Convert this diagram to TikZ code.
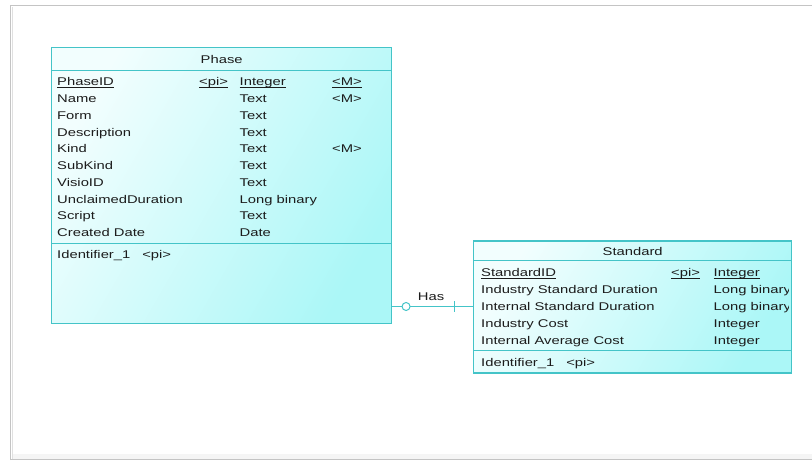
\documentclass[tikz,border=0pt]{standalone}
\usepackage{fontspec}
\setmainfont{Liberation Sans}[FakeStretch=1.32]
\usepackage{xcolor}
\usepackage{tikz}
\usetikzlibrary{calc,positioning}
\definecolor{frame}{HTML}{C4C4C4}
\definecolor{edge}{HTML}{44C4C8}
\definecolor{pale}{HTML}{F2FEFE}
\definecolor{aqua}{HTML}{ABF7F7}
\definecolor{ink}{HTML}{1C1C1C}
\newcommand\keyline[1]{\underline{\smash{#1}}}
\tikzset{
  entity/.style={draw=edge,line width=1.3pt,shading=axis,left color=pale,right color=aqua,shading angle=60,inner sep=0pt},
  attr/.style={anchor=base west,inner sep=0pt,text=ink,font=\fontsize{11.2}{13}\selectfont},
  ttl/.style={anchor=base,inner sep=0pt,text=ink,font=\fontsize{11.2}{13}\selectfont},
  sep/.style={draw=edge,line width=1pt}
}

\begin{document}
\begin{tikzpicture}[x=1pt,y=-1pt]
  \useasboundingbox (0,0) rectangle (812,461);
  \fill[white] (0,0) rectangle (812,461);
  \fill[black!4] (12,454) rectangle (812,458.5);
  \draw[frame,line width=1pt] (10.5,460) -- (10.5,5.5) -- (812,5.5);
  \draw[black!12,line width=1pt] (12,7) -- (12,458.5);
  \draw[frame,line width=1.2pt] (10,459.5) -- (812,459.5);
  % Phase
  \node[entity,minimum width=340,minimum height=276] (phase) at (221.7,185.5) {};
  \node[ttl] (phasettl) at (221.7,63.3) {Phase};
  \draw[sep] (phase.west |- 0,70.5) -- (phase.east |- 0,70.5);
  \draw[sep] (phase.west |- 0,243) -- (phase.east |- 0,243);
  \node[attr] (p0) at (57,85.7) {\keyline{PhaseID}};
  \node[attr] (p0k) at (199,85.7) {\keyline{<pi>}};
  \node[attr] (p0t) at (239.5,85.7) {\keyline{Integer}};
  \node[attr] (p0m) at (332,85.7) {\keyline{<M>}};
  \foreach \n/\t/\m [count=\i] in {Name/Text/<M>,Form/Text/{},Description/Text/{},Kind/Text/<M>,SubKind/Text/{},VisioID/Text/{},UnclaimedDuration/Long binary/{},Script/Text/{},Created Date/Date/{}} {
    \node[attr] (p\i) at (57,85.7+16.78*\i) {\n};
    \node[attr] (p\i t) at (239.5,85.7+16.78*\i) {\t};
    \node[attr] (p\i m) at (332,85.7+16.78*\i) {\m};
  }
  \node[attr] (pid) at (57,258.3) {Identifier\_1\hspace{12pt}<pi>};
  % Standard
  \node[entity,minimum width=318,minimum height=132] (standard) at (632.7,307) {};
  \node[ttl] (standardttl) at (632.7,255) {Standard};
  \draw[sep] (standard.west |- 0,260.5) -- (standard.east |- 0,260.5);
  \draw[sep] (standard.west |- 0,350.5) -- (standard.east |- 0,350.5);
  \begin{scope}
    \clip (standard.south west) rectangle ([xshift=-4pt]standard.north east);
    \node[attr] (s0) at (481,276.5) {\keyline{StandardID}};
    \node[attr] (s0k) at (671,276.5) {\keyline{<pi>}};
    \node[attr] (s0t) at (713.5,276.5) {\keyline{Integer}};
    \foreach \n/\t [count=\i] in {Industry Standard Duration/Long binary,Internal Standard Duration/Long binary,Industry Cost/Integer,Internal Average Cost/Integer} {
      \node[attr] (s\i) at (481,276.5+17.1*\i) {\n};
      \node[attr] (s\i t) at (713.5,276.5+17.1*\i) {\t};
    }
    \node[attr] (sid) at (481,366.5) {Identifier\_1\hspace{12pt}<pi>};
  \end{scope}
  % Has
  \coordinate (hasy) at (0,306.5);
  \draw[edge,line width=1pt] (phase.east |- hasy) -- (standard.west |- hasy)
    coordinate[pos=.77] (bar)
    node[pos=.17,circle,draw=edge,fill=white,line width=1pt,inner sep=0pt,minimum size=8pt] (one) {};
  \draw[edge,line width=1pt] ([yshift=5.5pt]bar) -- ([yshift=-5.5pt]bar);
  \node[ttl] (has) at (431,300.5) {Has};
\end{tikzpicture}
\end{document}
